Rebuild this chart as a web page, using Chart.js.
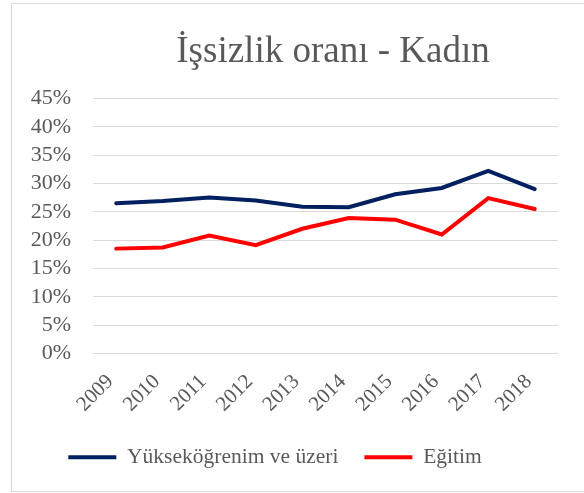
<!DOCTYPE html>
<html>
<head>
<meta charset="utf-8">
<script src="https://cdn.jsdelivr.net/npm/chart.js@4.4.1/dist/chart.umd.min.js"></script>
<style>
    body { margin: 0; background: #fff; }
    #frame {
        position: absolute;
        left: 11px;
        top: 3px;
        width: 620px;
        height: 487px;
        border: 1px solid #d9d9d9;
    }
    #wrap {
        position: absolute;
        left: 0;
        top: 0;
        width: 584px;
        height: 493px;
    }
</style>
</head>
<body>
<div id="frame"></div>
<div id="wrap"><canvas id="myChart" width="584" height="493"></canvas></div>
<script>
var years = ['2009', '2010', '2011', '2012', '2013', '2014', '2015', '2016', '2017', '2018'];
var yuksekogrenim = [26.5, 26.9, 27.5, 27.0, 25.9, 25.8, 28.1, 29.2, 32.2, 29.0];
var egitim = [18.5, 18.7, 20.8, 19.1, 22.0, 23.9, 23.6, 21.0, 27.4, 25.5];
var seriesNames = ['Yükseköğrenim ve üzeri', 'Eğitim'];
var titleText = 'İşsizlik oranı - Kadın';

var textColor = '#595959';
var fontFamily = "'Liberation Serif', 'Times New Roman', serif";

// title and legend are not centred on the canvas in the original
var shiftBoxes = {
    id: 'shiftBoxes',
    afterLayout: function(chart) {
        chart.titleBlock.left += 54;
        chart.titleBlock.right += 54;
        chart.legend.left -= 4;
        chart.legend.right -= 4;
    }
};

var ctx = document.getElementById('myChart').getContext('2d');

var myChart = new Chart(ctx, {
    type: 'line',
    data: {
        labels: years,
        datasets: [{
            label: seriesNames[0],
            data: yuksekogrenim,
            borderColor: '#002060',
            backgroundColor: '#002060',
            borderWidth: 4,
            borderCapStyle: 'round',
            pointRadius: 0,
            pointStyle: 'line',
            tension: 0
        }, {
            label: seriesNames[1],
            data: egitim,
            borderColor: '#ff0000',
            backgroundColor: '#ff0000',
            borderWidth: 4,
            borderCapStyle: 'round',
            pointRadius: 0,
            pointStyle: 'line',
            tension: 0
        }]
    },
    options: {
        responsive: false,
        animation: false,
        layout: {
            padding: { top: 0, left: 0, right: 26, bottom: 15 }
        },
        plugins: {
            title: {
                display: true,
                text: titleText,
                color: textColor,
                font: { family: fontFamily, size: 37, weight: 'normal' },
                padding: { top: 30, bottom: 24 }
            },
            legend: {
                position: 'bottom',
                labels: {
                    usePointStyle: true,
                    pointStyleWidth: 48,
                    padding: 26,
                    color: textColor,
                    font: { family: fontFamily, size: 21.5 }
                }
            },
            tooltip: { enabled: false }
        },
        scales: {
            x: {
                offset: true,
                grid: { display: false },
                border: { display: false },
                ticks: {
                    color: textColor,
                    font: { family: fontFamily, size: 21 },
                    minRotation: 45,
                    maxRotation: 45,
                    padding: 8,
                    labelOffset: -6
                },
                afterFit: function(scale) {
                    scale.height = 67;
                }
            },
            y: {
                min: 0,
                max: 45,
                grid: { color: '#d9d9d9', lineWidth: 1, drawTicks: false },
                border: { display: false },
                ticks: {
                    stepSize: 5,
                    autoSkip: false,
                    color: textColor,
                    font: { family: fontFamily, size: 22 },
                    padding: 22,
                    callback: function(value) {
                        return value + '%';
                    }
                },
                afterFit: function(scale) {
                    scale.width = 93;
                }
            }
        }
    },
    plugins: [shiftBoxes]
});
</script>
</body>
</html>
